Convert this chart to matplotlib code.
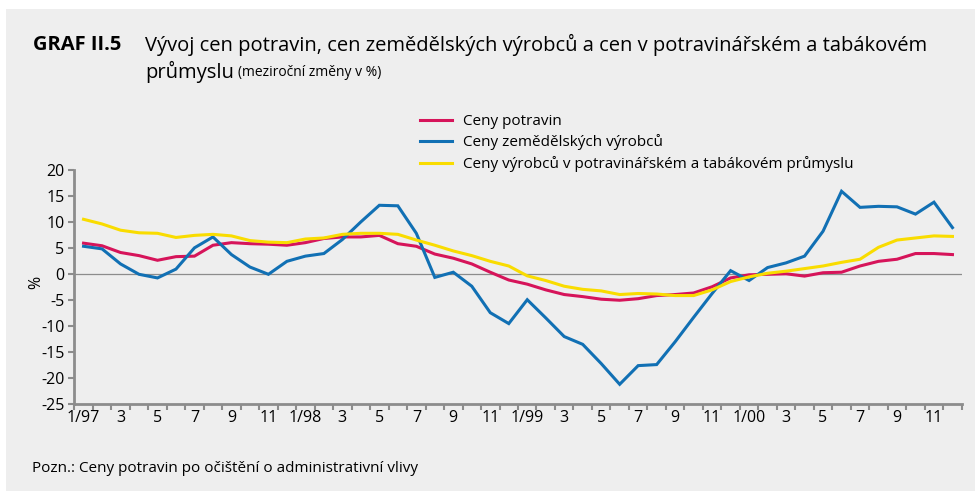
import numpy as np
import matplotlib
matplotlib.use("Agg")
import matplotlib.pyplot as plt
from matplotlib import font_manager
from matplotlib.patches import Rectangle

# Monthly year-on-year changes, 1/97 - 12/00
food = [5.9, 5.4, 4.1, 3.5, 2.6, 3.3, 3.4, 5.5, 6.0, 5.8, 5.7, 5.5,
        6.0, 6.8, 7.1, 7.1, 7.4, 5.8, 5.3, 3.8, 3.0, 1.9, 0.3, -1.2,
        -2.0, -3.1, -4.0, -4.4, -4.9, -5.1, -4.8, -4.2, -4.0, -3.7, -2.5, -0.8,
        -0.2, -0.1, 0.0, -0.45, 0.2, 0.3, 1.5, 2.4, 2.8, 3.9, 3.9, 3.7]
agri = [5.3, 4.8, 1.9, -0.1, -0.8, 0.9, 5.0, 7.1, 3.7, 1.3, -0.1, 2.4,
        3.4, 3.9, 6.6, 10.0, 13.2, 13.1, 7.8, -0.7, 0.3, -2.4, -7.5, -9.6,
        -5.0, -8.5, -12.1, -13.6, -17.3, -21.3, -17.7, -17.5, -13.1, -8.4, -3.8, 0.6,
        -1.3, 1.2, 2.1, 3.4, 8.2, 15.9, 12.8, 13.0, 12.9, 11.5, 13.8, 8.9]
industry = [10.5, 9.6, 8.4, 7.9, 7.8, 7.0, 7.4, 7.6, 7.3, 6.4, 6.1, 6.0,
            6.7, 6.9, 7.6, 7.8, 7.8, 7.6, 6.5, 5.5, 4.4, 3.5, 2.4, 1.5,
            -0.4, -1.3, -2.4, -3.0, -3.3, -4.0, -3.8, -3.9, -4.2, -4.2, -3.1, -1.5,
            -0.6, 0.1, 0.5, 1.0, 1.5, 2.2, 2.8, 5.1, 6.5, 6.9, 7.3, 7.2]
month_labels = ["1/97", "3", "5", "7", "9", "11",
                "1/98", "3", "5", "7", "9", "11",
                "1/99", "3", "5", "7", "9", "11",
                "1/00", "3", "5", "7", "9", "11"]
series_names = ["Ceny potravin", "Ceny zemědělských výrobců",
                "Ceny výrobců v potravinářském a tabákovém průmyslu"]

available = {f.name for f in font_manager.fontManager.ttflist}
font = "Liberation Sans Narrow" if "Liberation Sans Narrow" in available else "Open Sans"
plt.rcParams['font.family'] = [font, 'DejaVu Sans']
plt.rcParams['axes.unicode_minus'] = False

bg = "#eeeeee"
grey = "#8c8c8c"
colors = ["#d6145a", "#1170b4", "#f9dc00"]

fig = plt.figure(figsize=(9.75, 4.91), dpi=100)
fig.patches.append(Rectangle((6 / 975, 0), 1, 1 - 9 / 491, transform=fig.transFigure,
                             facecolor=bg, edgecolor="none", zorder=-10))

ax = fig.add_axes([74.3 / 975, 1 - 403.5 / 491, 887.4 / 975, 233.5 / 491])
ax.set_facecolor("none")

x = np.arange(len(food)) + 0.5
for vals, c, name in zip([food, agri, industry], colors, series_names):
    ax.plot(x, vals, color=c, lw=2.2, label=name, solid_joinstyle="miter")

ax.axhline(0, color=grey, lw=0.9, zorder=0)
ax.set_xlim(0, len(food))
ax.set_ylim(-25, 20)
ax.set_yticks(np.arange(-25, 21, 5))

ax.set_xticks(np.arange(0, len(food) + 1))
ax.set_xticklabels([])
ax.set_xticks(np.arange(0, len(food), 2) + 0.5, minor=True)
ax.set_xticklabels(month_labels, minor=True)
ax.tick_params(axis="x", which="major", length=4, width=1.5, color=grey, direction="out")
ax.tick_params(axis="x", which="minor", length=0, pad=5, labelsize=11.5)
ax.tick_params(axis="y", length=4, width=1.5, color=grey, labelsize=11.5, pad=3)

for s in ["top", "right"]:
    ax.spines[s].set_visible(False)
for s in ["left", "bottom"]:
    ax.spines[s].set_color(grey)
    ax.spines[s].set_linewidth(2)

ax.set_ylabel("%", fontsize=11.5)
ax.yaxis.set_label_coords(-0.034, 0.52)

leg = ax.legend(loc="upper left", bbox_to_anchor=(420 / 975, 1 - 114 / 491),
                bbox_transform=fig.transFigure, frameon=False, fontsize=11,
                handlelength=2.1, handletextpad=0.7, labelspacing=0.36,
                borderaxespad=0, borderpad=0)

fig.text(33 / 975, 1 - 45 / 491, "GRAF II.5", fontsize=14.5, fontweight="bold", va="center")
fig.text(145 / 975, 1 - 45 / 491,
         "Vývoj cen potravin, cen zemědělských výrobců a cen v potravinářském a tabákovém",
         fontsize=14.5, va="center")
fig.text(145 / 975, 1 - 72 / 491, "průmyslu", fontsize=14.5, va="center")
fig.text(238 / 975, 1 - 72 / 491, "(meziroční změny v %)", fontsize=10, va="center")
fig.text(32 / 975, 1 - 468 / 491, "Pozn.: Ceny potravin po očištění o administrativní vlivy",
         fontsize=11, va="center")

fig.savefig("out.png", dpi=100)
